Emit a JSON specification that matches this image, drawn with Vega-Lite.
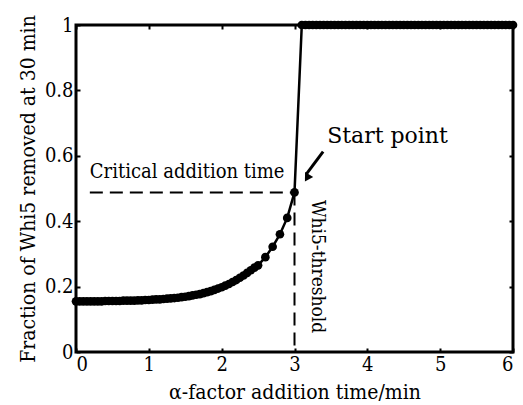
{
  "$schema": "https://vega.github.io/schema/vega-lite/v6.json",
  "width": 437,
  "height": 327,
  "autosize": {"type": "none"},
  "padding": {"left": 76, "top": 25, "right": 10, "bottom": 53},
  "background": "white",
  "config": {
    "view": {"stroke": "black", "strokeWidth": 3},
    "axis": {
      "domain": false, "grid": false,
      "tickSize": -4, "tickWidth": 2, "tickColor": "black",
      "labelFont": "DejaVu Serif Condensed", "labelFontSize": 20, "labelColor": "black",
      "titleFont": "DejaVu Serif Condensed", "titleFontSize": 21, "titleColor": "black", "titleFontWeight": "normal"
    }
  },
  "datasets": {
    "curve": [
      {"t": 0.00, "f": 0.155}, {"t": 0.05, "f": 0.155}, {"t": 0.10, "f": 0.155}, {"t": 0.15, "f": 0.155},
      {"t": 0.20, "f": 0.155}, {"t": 0.25, "f": 0.155}, {"t": 0.30, "f": 0.155}, {"t": 0.35, "f": 0.155},
      {"t": 0.40, "f": 0.156}, {"t": 0.45, "f": 0.156}, {"t": 0.50, "f": 0.156}, {"t": 0.55, "f": 0.156},
      {"t": 0.60, "f": 0.156}, {"t": 0.65, "f": 0.157}, {"t": 0.70, "f": 0.157}, {"t": 0.75, "f": 0.157},
      {"t": 0.80, "f": 0.157}, {"t": 0.85, "f": 0.158}, {"t": 0.90, "f": 0.158}, {"t": 0.95, "f": 0.159},
      {"t": 1.00, "f": 0.159}, {"t": 1.05, "f": 0.160}, {"t": 1.10, "f": 0.161}, {"t": 1.15, "f": 0.161},
      {"t": 1.20, "f": 0.162}, {"t": 1.25, "f": 0.163}, {"t": 1.30, "f": 0.164}, {"t": 1.35, "f": 0.165},
      {"t": 1.40, "f": 0.166}, {"t": 1.45, "f": 0.168}, {"t": 1.50, "f": 0.169}, {"t": 1.55, "f": 0.171},
      {"t": 1.60, "f": 0.173}, {"t": 1.65, "f": 0.175}, {"t": 1.70, "f": 0.177}, {"t": 1.75, "f": 0.180},
      {"t": 1.80, "f": 0.183}, {"t": 1.85, "f": 0.186}, {"t": 1.90, "f": 0.190}, {"t": 1.95, "f": 0.194},
      {"t": 2.00, "f": 0.198}, {"t": 2.05, "f": 0.203}, {"t": 2.10, "f": 0.208}, {"t": 2.15, "f": 0.214},
      {"t": 2.20, "f": 0.220}, {"t": 2.25, "f": 0.227}, {"t": 2.30, "f": 0.234}, {"t": 2.35, "f": 0.242},
      {"t": 2.40, "f": 0.250}, {"t": 2.45, "f": 0.258}, {"t": 2.50, "f": 0.265}, {"t": 2.60, "f": 0.290},
      {"t": 2.70, "f": 0.322}, {"t": 2.80, "f": 0.360}, {"t": 2.90, "f": 0.410}, {"t": 3.00, "f": 0.488},
      {"t": 3.10, "f": 1}, {"t": 3.15, "f": 1}, {"t": 3.20, "f": 1}, {"t": 3.25, "f": 1}, {"t": 3.30, "f": 1},
      {"t": 3.35, "f": 1}, {"t": 3.40, "f": 1}, {"t": 3.45, "f": 1}, {"t": 3.50, "f": 1}, {"t": 3.55, "f": 1},
      {"t": 3.60, "f": 1}, {"t": 3.65, "f": 1}, {"t": 3.70, "f": 1}, {"t": 3.75, "f": 1}, {"t": 3.80, "f": 1},
      {"t": 3.85, "f": 1}, {"t": 3.90, "f": 1}, {"t": 3.95, "f": 1}, {"t": 4.00, "f": 1}, {"t": 4.05, "f": 1},
      {"t": 4.10, "f": 1}, {"t": 4.15, "f": 1}, {"t": 4.20, "f": 1}, {"t": 4.25, "f": 1}, {"t": 4.30, "f": 1},
      {"t": 4.35, "f": 1}, {"t": 4.40, "f": 1}, {"t": 4.45, "f": 1}, {"t": 4.50, "f": 1}, {"t": 4.55, "f": 1},
      {"t": 4.60, "f": 1}, {"t": 4.65, "f": 1}, {"t": 4.70, "f": 1}, {"t": 4.75, "f": 1}, {"t": 4.80, "f": 1},
      {"t": 4.85, "f": 1}, {"t": 4.90, "f": 1}, {"t": 4.95, "f": 1}, {"t": 5.00, "f": 1}, {"t": 5.05, "f": 1},
      {"t": 5.10, "f": 1}, {"t": 5.15, "f": 1}, {"t": 5.20, "f": 1}, {"t": 5.25, "f": 1}, {"t": 5.30, "f": 1},
      {"t": 5.35, "f": 1}, {"t": 5.40, "f": 1}, {"t": 5.45, "f": 1}, {"t": 5.50, "f": 1}, {"t": 5.55, "f": 1},
      {"t": 5.60, "f": 1}, {"t": 5.65, "f": 1}, {"t": 5.70, "f": 1}, {"t": 5.75, "f": 1}, {"t": 5.80, "f": 1},
      {"t": 5.85, "f": 1}, {"t": 5.90, "f": 1}, {"t": 5.95, "f": 1}, {"t": 6.00, "f": 1}
    ],
    "guides": [
      {"t": 0.19, "t2": 3.0, "f": 0.488, "f2": 0.488},
      {"t": 3.0, "t2": 3.0, "f": 0.488, "f2": 0.0}
    ],
    "arrow": [{"t": 3.393, "t2": 3.16, "f": 0.613, "f2": 0.543}],
    "arrowhead": [{"t": 3.172, "f": 0.532}],
    "critical": [{"t": 0.19, "f": 0.532, "label": "Critical addition time"}],
    "start": [{"t": 3.448, "f": 0.639, "label": "Start point"}],
    "whi5": [{"t": 3.317, "f": 0.465, "label": "Whi5-threshold"}]
  },
  "resolve": {"axis": {"x": "independent", "y": "independent"}},
  "layer": [
    {
      "data": {"name": "guides"},
      "mark": {"type": "rule", "color": "black", "strokeWidth": 2, "strokeDash": [13, 7]},
      "encoding": {
        "x": {"field": "t", "type": "quantitative", "axis": null},
        "x2": {"field": "t2"},
        "y": {"field": "f", "type": "quantitative", "axis": null},
        "y2": {"field": "f2"}
      }
    },
    {
      "data": {"name": "curve"},
      "mark": {"type": "line", "color": "black", "strokeWidth": 2.5, "clip": false,
               "point": {"filled": true, "size": 75, "color": "black", "opacity": 1}},
      "encoding": {
        "x": {"field": "t", "type": "quantitative",
              "scale": {"domain": [0, 6], "nice": false, "zero": false},
              "axis": {"orient": "bottom", "values": [0, 1, 2, 3, 4, 5, 6], "title": "α-factor addition time/min", "labelPadding": 6, "titlePadding": 7}},
        "y": {"field": "f", "type": "quantitative",
              "scale": {"domain": [0, 1], "nice": false},
              "axis": {"orient": "left", "values": [0, 0.2, 0.4, 0.6, 0.8, 1], "format": ".1~f", "title": "Fraction of Whi5 removed at 30 min", "labelPadding": 7, "titlePadding": 6}}
      }
    },
    {
      "data": {"name": "curve"},
      "mark": {"type": "point", "opacity": 0},
      "encoding": {
        "x": {"field": "t", "type": "quantitative",
              "axis": {"orient": "top", "values": [0, 1, 2, 3, 4, 5, 6], "labels": false, "title": null}},
        "y": {"field": "f", "type": "quantitative",
              "axis": {"orient": "right", "values": [0, 0.2, 0.4, 0.6, 0.8, 1], "labels": false, "title": null}}
      }
    },
    {
      "data": {"name": "arrow"},
      "mark": {"type": "rule", "color": "black", "strokeWidth": 3},
      "encoding": {
        "x": {"field": "t", "type": "quantitative", "axis": null},
        "x2": {"field": "t2"},
        "y": {"field": "f", "type": "quantitative", "axis": null},
        "y2": {"field": "f2"}
      }
    },
    {
      "data": {"name": "arrowhead"},
      "mark": {"type": "point", "shape": "triangle-down", "filled": true, "color": "black", "opacity": 1, "size": 90, "angle": 31},
      "encoding": {
        "x": {"field": "t", "type": "quantitative", "axis": null},
        "y": {"field": "f", "type": "quantitative", "axis": null}
      }
    },
    {
      "data": {"name": "critical"},
      "mark": {"type": "text", "font": "DejaVu Serif Condensed", "fontSize": 20, "align": "left", "baseline": "alphabetic", "color": "black"},
      "encoding": {
        "x": {"field": "t", "type": "quantitative", "axis": null},
        "y": {"field": "f", "type": "quantitative", "axis": null},
        "text": {"field": "label"}
      }
    },
    {
      "data": {"name": "start"},
      "mark": {"type": "text", "font": "DejaVu Serif", "fontSize": 22, "align": "left", "baseline": "alphabetic", "color": "black"},
      "encoding": {
        "x": {"field": "t", "type": "quantitative", "axis": null},
        "y": {"field": "f", "type": "quantitative", "axis": null},
        "text": {"field": "label"}
      }
    },
    {
      "data": {"name": "whi5"},
      "mark": {"type": "text", "font": "DejaVu Serif Condensed", "fontSize": 19, "align": "left", "baseline": "middle", "angle": 90, "color": "black"},
      "encoding": {
        "x": {"field": "t", "type": "quantitative", "axis": null},
        "y": {"field": "f", "type": "quantitative", "axis": null},
        "text": {"field": "label"}
      }
    }
  ]
}
